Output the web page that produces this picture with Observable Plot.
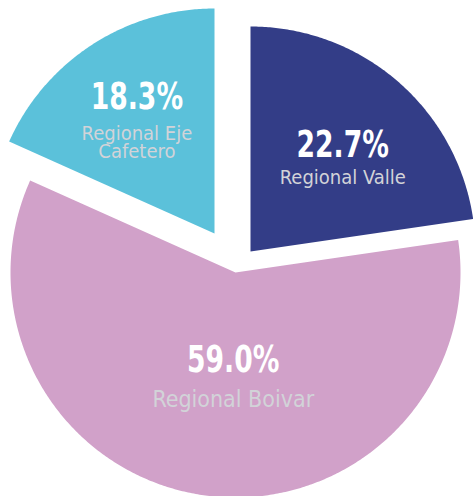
<!DOCTYPE html>
<html><head><meta charset="utf-8">
<script src="https://cdn.jsdelivr.net/npm/d3@7"></script>
<script src="https://cdn.jsdelivr.net/npm/@observablehq/plot@0.6"></script>
<style>html,body{margin:0;padding:0;background:#fff;overflow:hidden}</style>
</head><body><div id="chart"></div>
<script>
// ---- data ----
const regions = ["Regional Valle", "Regional Boivar", "Regional Eje\nCafetero"];
const shares = [22.7, 59.0, 18.3];
const colors = ["#333d87", "#d1a1c9", "#5bc1da"];

// ---- layout (not data) ----
const W = 473, H = 496, R = 225, CX = 232, CY = 252;
const explode = [[18, -1], [3, 20], [-18, -19]];                  // px offset of each slice
const labelPos = [[0.41, -0.42], [-0.01, 0.44], [-0.345, -0.553]]; // percent baseline, in radii from slice apex
const pctSize = [37, 37, 37];
const nameSize = [20, 23, 20];
const nameGap = [27, 35, 30.5];   // px from percent baseline to first name baseline
const nameLH = 0.92;
const pctCondense = 0.80;

const pie = d3.pie().sort(null).value(d => d)(shares);
const slices = pie.map((p, i) => ({i, name: regions[i], color: colors[i], a0: p.startAngle, a1: p.endAngle}));

const pts = [];
for (const s of slices) {
  const [ex, ey] = explode[s.i];
  const ax = CX + ex, ay = CY + ey;
  pts.push({k: s.i, x: ax, y: ay, color: s.color});
  const n = Math.ceil((s.a1 - s.a0) / (Math.PI / 360));
  for (let j = 0; j <= n; j++) {
    const a = s.a0 + (s.a1 - s.a0) * j / n;
    pts.push({k: s.i, x: ax + R * Math.sin(a), y: ay - R * Math.cos(a), color: s.color});
  }
}

const labels = slices.map(s => {
  const [ex, ey] = explode[s.i];
  const [lx, ly] = labelPos[s.i];
  return {
    pct: d3.format(".1f")(shares[s.i]) + "%",
    name: s.name,
    x: CX + ex + lx * R,
    y: CY + ey + ly * R,
    ps: pctSize[s.i], ns: nameSize[s.i], gap: nameGap[s.i]
  };
});

const font = "'DejaVu Sans Condensed', 'DejaVu Sans', sans-serif";

const marks = [
  Plot.line(pts, {x: "x", y: "y", z: "k", fill: "color", stroke: null})
];
for (const l of labels) {
  marks.push(Plot.text([l], {x: "x", y: "y", text: "pct", fill: "#ffffff", fontSize: l.ps, fontWeight: "bold", lineAnchor: "bottom", fontFamily: font}));
  marks.push(Plot.text([l], {x: "x", y: d => d.y + d.gap, text: "name", fill: "#d2d3d8", fontSize: l.ns, lineAnchor: "top", dy: -0.71 * nameLH * l.ns, fontFamily: font, lineHeight: nameLH}));
}

const chart = Plot.plot({
  width: W, height: H,
  margin: 0,
  x: {domain: [0, W], range: [0, W], axis: null},
  y: {domain: [0, H], range: [0, H], axis: null},
  color: {type: "identity"},
  style: {background: "#fff", overflow: "hidden"},
  marks
});
document.getElementById("chart").append(chart);
// condense the bold percentage labels horizontally (the reference uses a narrow face)
chart.querySelectorAll('g[font-weight="bold"] text').forEach(t => {
  const w = t.getComputedTextLength();
  t.setAttribute("textLength", (w * pctCondense).toFixed(1));
  t.setAttribute("lengthAdjust", "spacingAndGlyphs");
});
</script>
</body></html>
